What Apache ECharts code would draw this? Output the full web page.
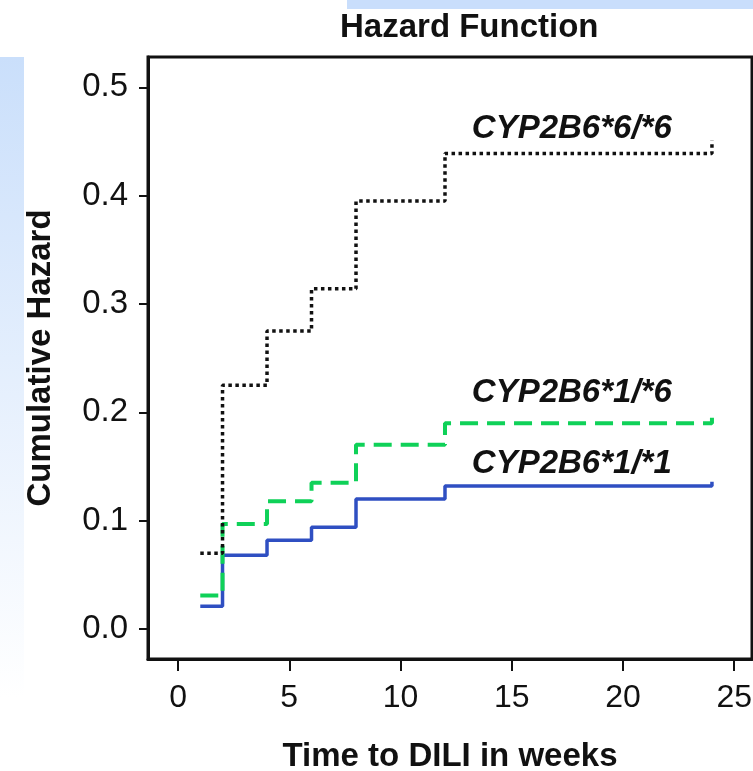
<!DOCTYPE html>
<html>
<head>
<meta charset="utf-8">
<script src="https://cdn.jsdelivr.net/npm/echarts@6/dist/echarts.min.js"></script>
<style>
  html, body { margin: 0; padding: 0; background: #fff; }
  #hazard { width: 753px; height: 771px; }
</style>
</head>
<body>
<div id="hazard"></div>
<script>
// weeks at which the cumulative hazard steps
var weeks = [1, 2, 4, 6, 8, 12, 24];
var hom66 = [0.070, 0.225, 0.275, 0.314, 0.395, 0.439, 0.451];
var het16 = [0.031, 0.097, 0.118, 0.135, 0.170, 0.190, 0.195];
var wt11 = [0.021, 0.068, 0.082, 0.094, 0.120, 0.132, 0.136];
var groupNames = ['CYP2B6*6/*6', 'CYP2B6*1/*6', 'CYP2B6*1/*1'];
var labelAt = [[17.7, 0.462], [17.7, 0.218], [17.7, 0.152]];
var xTicks = [0, 5, 10, 15, 20, 25];
var yTicks = [0, 0.1, 0.2, 0.3, 0.4, 0.5];

function pairs(vals) {
  return weeks.map(function (w, i) { return [w, vals[i]]; });
}

function stepSeries(idx, vals, color, width, dash) {
  return {
    name: groupNames[idx],
    type: 'line',
    step: 'end',
    symbol: 'none',
    silent: true,
    data: pairs(vals),
    lineStyle: { color: color, width: width, type: dash, cap: 'butt' },
    markPoint: {
      symbol: 'circle',
      symbolSize: 0,
      silent: true,
      label: {
        show: true,
        position: 'inside',
        formatter: groupNames[idx],
        color: '#111',
        fontFamily: 'Liberation Sans',
        fontWeight: 'bold',
        fontStyle: 'italic',
        fontSize: 33
      },
      data: [{ coord: labelAt[idx] }]
    }
  };
}

var chartDom = document.getElementById('hazard');
var myChart = echarts.init(chartDom);
var font = 'Liberation Sans';
var option = {
  animation: false,
  backgroundColor: '#fff',
  graphic: [
    {
      type: 'rect',
      shape: { x: 347, y: 0, width: 406, height: 9 },
      style: { fill: '#c9defc' },
      z: -1
    },
    {
      type: 'rect',
      shape: { x: 0, y: 57, width: 24, height: 640 },
      style: {
        fill: new echarts.graphic.LinearGradient(0, 0, 0, 1, [
          { offset: 0, color: '#cadffb' },
          { offset: 1, color: '#ffffff' }
        ])
      },
      z: -1
    }
  ],
  title: {
    text: 'Hazard Function',
    left: 335,
    top: 6,
    textStyle: { fontFamily: font, fontWeight: 'bold', fontSize: 33, color: '#111' }
  },
  grid: {
    left: 148,
    top: 57,
    right: 1,
    bottom: 112,
    outerBoundsMode: 'none',
    containLabel: false,
    show: true,
    borderColor: '#111',
    borderWidth: 3,
    backgroundColor: '#fff'
  },
  xAxis: {
    type: 'value',
    min: -1.35,
    max: 25.8,
    name: 'Time to DILI in weeks',
    nameLocation: 'middle',
    nameGap: 81,
    nameTextStyle: { fontFamily: font, fontWeight: 'bold', fontSize: 33, color: '#111' },
    splitLine: { show: false },
    axisLine: { onZero: false, lineStyle: { color: '#111', width: 3 } },
    axisTick: { customValues: xTicks, length: 12, lineStyle: { color: '#111', width: 2 } },
    axisLabel: {
      customValues: xTicks,
      margin: 23,
      fontFamily: font,
      fontSize: 32,
      color: '#111'
    }
  },
  yAxis: {
    type: 'value',
    min: -0.0277,
    max: 0.528,
    name: 'Cumulative Hazard',
    nameLocation: 'middle',
    nameGap: 91,
    nameTextStyle: { fontFamily: font, fontWeight: 'bold', fontSize: 33, color: '#111' },
    splitLine: { show: false },
    axisLine: { onZero: false, lineStyle: { color: '#111', width: 3 } },
    axisTick: { customValues: yTicks, length: 9, lineStyle: { color: '#111', width: 2 } },
    axisLabel: {
      customValues: yTicks,
      margin: 20,
      fontFamily: font,
      fontSize: 33,
      color: '#111',
      formatter: function (v) { return v.toFixed(1); }
    }
  },
  series: [
    stepSeries(2, wt11, '#2f4fc2', 3.5, 'solid'),
    stepSeries(1, het16, '#0fd158', 4, [18, 9]),
    stepSeries(0, hom66, '#111111', 3.5, [3.5, 3.5])
  ]
};
myChart.setOption(option);
</script>
</body>
</html>
